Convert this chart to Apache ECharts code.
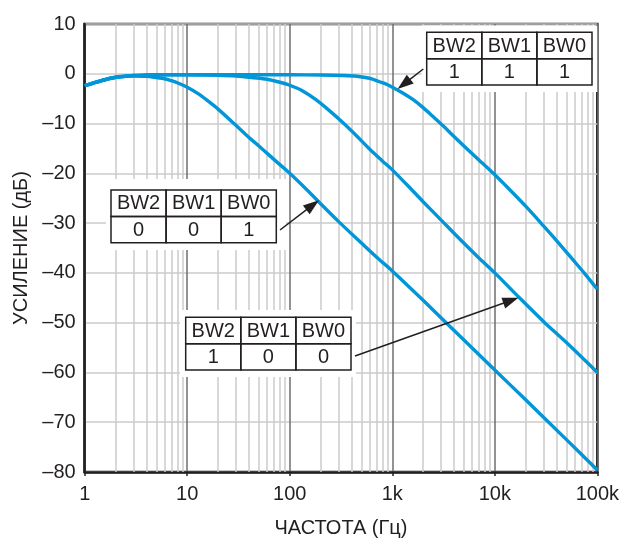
<!DOCTYPE html>
<html><head><meta charset="utf-8">
<script src="https://cdn.jsdelivr.net/npm/echarts@6/dist/echarts.min.js"></script>
<style>html,body{margin:0;padding:0;background:#fff}#c{width:622px;height:543px}</style>
</head><body><div id="c"></div>
<script>
// ---- data ----
const freqA = [1, 1.5, 2, 3, 4, 5, 6, 7, 8, 10, 13, 16, 20, 30, 40, 50, 70, 100, 150, 200, 300, 500, 700, 1000, 2000, 5000, 10000, 20000, 50000, 100000];
const gainA = [-2.4, -1.3, -0.75, -0.45, -0.5, -0.75, -1.0, -1.4, -1.8, -2.7, -4.1, -5.5, -7.1, -10.4, -12.8, -14.5, -17.2, -20, -23.5, -26.1, -29.7, -34.0, -36.8, -39.6, -45.5, -53.5, -59.5, -65.5, -73.5, -79.6];

const freqB = [1, 1.5, 2, 3, 4, 5, 10, 20, 30, 45, 60, 80, 100, 130, 180, 250, 333, 450, 600, 800, 1000, 1500, 2000, 3000, 4550, 7000, 10000, 17400, 30000, 50000, 100000];
const gainB = [-2.4, -1.3, -0.7, -0.35, -0.25, -0.2, -0.2, -0.3, -0.45, -0.8, -1.1, -1.7, -2.3, -3.3, -5.2, -7.6, -9.9, -12.5, -15.1, -17.5, -19.3, -23, -25.7, -29.4, -33.2, -37, -40, -45, -49.8, -54, -60];

const freqC = [1, 1.5, 2, 3, 4, 5, 10, 30, 100, 200, 333, 450, 600, 750, 900, 1000, 1300, 1600, 2000, 2500, 3150, 4000, 5000, 7000, 10000, 14000, 20000, 30000, 40000, 57500, 75000, 100000];
const gainC = [-2.4, -1.3, -0.7, -0.35, -0.25, -0.2, -0.2, -0.2, -0.2, -0.25, -0.35, -0.5, -0.9, -1.6, -2.2, -2.7, -4.0, -5.2, -6.8, -8.6, -10.5, -12.6, -14.5, -17.3, -20.3, -23.3, -26.6, -30.6, -33.5, -37.3, -40.1, -43.3];

const xTickLabels = ['1', '10', '100', '1k', '10k', '100k'];
const minorGrid = [2,3,4,5,6,7,8,9, 20,30,40,50,60,70,80,90, 200,300,400,500,600,700,800,900, 2000,3000,4000,5000,6000,7000,8000,9000, 20000,30000,40000,50000,60000,70000,80000,90000];

const tableHeaders = ['BW2', 'BW1', 'BW0'];
const tableValuesA = ['0', '0', '1'];
const tableValuesB = ['1', '0', '0'];
const tableValuesC = ['1', '1', '1'];

const arrowTipA = [193, -25.4];
const arrowTipB = [17000, -45];
const arrowTipC = [1127, -3.06];

const xName = 'ЧАСТОТА (Гц)';
const yName = 'УСИЛЕНИЕ (дБ)';

// ---- chart ----
const FONT = '"Liberation Sans", Arial, sans-serif';
const INK = '#231f20';
const BLUE = '#0096d8';
const chart = echarts.init(document.getElementById('c'), null, {renderer: 'canvas'});

function pairs(xs, ys) { return xs.map((x, i) => [x, ys[i]]); }
function curve(name, xs, ys) {
  return {
    name, type: 'line', data: pairs(xs, ys), showSymbol: false, symbol: 'none',
    smooth: 0.3, z: 3, silent: true,
    lineStyle: {color: BLUE, width: 3.4}
  };
}

chart.setOption({
  animation: false,
  grid: {left: 84.7, right: 23.3, top: 24, bottom: 68, show: true, borderColor: INK, borderWidth: 2.5, backgroundColor: 'transparent'},
  xAxis: {
    type: 'log', logBase: 10, min: 1, max: 100000,
    name: xName, nameLocation: 'middle', nameGap: 46,
    nameTextStyle: {fontFamily: FONT, fontSize: 20, color: INK},
    axisLine: {show: true, onZero: false, lineStyle: {color: INK, width: 2.5}},
    axisTick: {show: true, length: 4, lineStyle: {color: INK, width: 1.5}},
    axisLabel: {
      fontFamily: FONT, fontSize: 20, color: INK, margin: 12,
      formatter: v => xTickLabels[Math.round(Math.log10(v))]
    },
    splitLine: {show: true, lineStyle: {color: '#6e6e6e', width: 1.5}},
    minorTick: {show: false}, minorSplitLine: {show: false}
  },
  yAxis: {
    type: 'value', min: -80, max: 10, interval: 10,
    name: yName, nameLocation: 'middle', nameGap: 52,
    nameTextStyle: {fontFamily: FONT, fontSize: 20, color: INK},
    axisLine: {show: true, onZero: false, lineStyle: {color: INK, width: 2.5}},
    axisTick: {show: false},
    axisLabel: {
      fontFamily: FONT, fontSize: 20, color: INK, margin: 9,
      formatter: v => (v < 0 ? '\u2013' + (-v) : String(v))
    },
    splitLine: {show: true, lineStyle: {color: '#cbcbcb', width: 1.5}}
  },
  series: [
    {
      type: 'line', data: [], z: 1, silent: true,
      markLine: {
        z: 1, silent: true, symbol: ['none', 'none'], label: {show: false}, animation: false,
        lineStyle: {color: '#cbcbcb', width: 1.5, type: 'solid'},
        emphasis: {disabled: true},
        data: minorGrid.map(v => ({xAxis: v}))
      }
    },
    curve('001', freqA, gainA),
    curve('100', freqB, gainB),
    curve('111', freqC, gainC)
  ]
});

// ---- annotations (tables + arrows) ----
const CW = 55.1, RH = 26.4;
function table(x, y, values, bg) {
  const els = [];
  els.push({type: 'rect', z: 30, silent: true, shape: {x: bg[0], y: bg[1], width: bg[2] - bg[0], height: bg[3] - bg[1]}, style: {fill: '#ffffff'}});
  const rows = [tableHeaders, values];
  rows.forEach((row, r) => {
    row.forEach((t, c) => {
      els.push({type: 'rect', z: 31, silent: true,
        shape: {x: x + c * CW, y: y + r * RH, width: CW, height: RH},
        style: {fill: 'none', stroke: INK, lineWidth: 1.5}});
      els.push({type: 'text', z: 32, silent: true,
        style: {text: t, x: x + c * CW + CW / 2, y: y + r * RH + RH / 2 + 0.5,
          align: 'center', verticalAlign: 'middle', fontFamily: FONT, fontSize: 20, fill: INK}});
    });
  });
  return els;
}
function arrow(tail, tipData) {
  const tip = chart.convertToPixel({gridIndex: 0}, tipData);
  const dx = tip[0] - tail[0], dy = tip[1] - tail[1];
  const len = Math.sqrt(dx * dx + dy * dy);
  const ux = dx / len, uy = dy / len;
  const L = 16, W = 5.6;
  const bx = tip[0] - ux * L, by = tip[1] - uy * L;
  return [
    {type: 'line', z: 33, silent: true, shape: {x1: tail[0], y1: tail[1], x2: bx + ux * 2, y2: by + uy * 2}, style: {stroke: INK, lineWidth: 1.5}},
    {type: 'polygon', z: 33, silent: true, shape: {points: [[tip[0], tip[1]], [bx - uy * W, by + ux * W], [bx + uy * W, by - ux * W]]}, style: {fill: INK}}
  ];
}

const graphics = []
  .concat(table(426.7, 32.3, tableValuesC, [421.5, 25.4, 597.3, 92]))
  .concat(table(111, 190, tableValuesA, [106, 179, 286, 250]))
  .concat(table(185.7, 317.3, tableValuesB, [180, 310, 356, 377]))
  .concat(arrow([423.3, 69], arrowTipC))
  .concat(arrow([280, 230], arrowTipA))
  .concat(arrow([355, 356], arrowTipB));

chart.setOption({graphic: {elements: graphics}});
</script>
</body></html>
